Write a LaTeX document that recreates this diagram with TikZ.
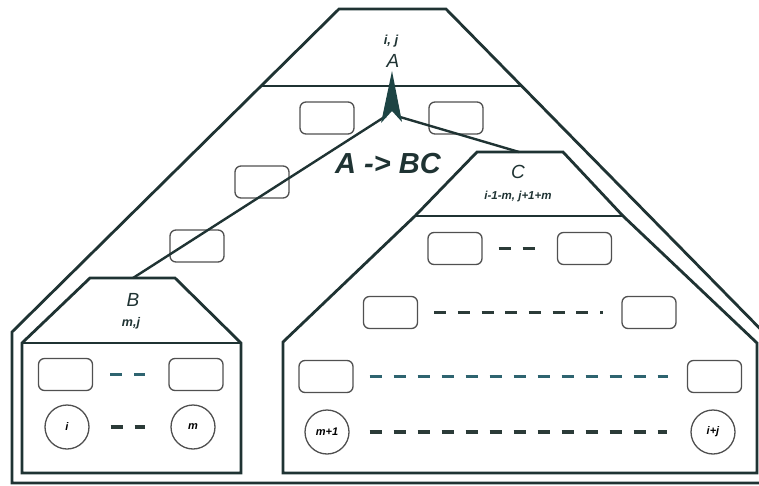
\documentclass[tikz,border=0pt]{standalone}
\usepackage{fontspec}
\setmainfont{Liberation Sans}
\setsansfont{Liberation Sans}
\definecolor{frameC}{HTML}{1F3333}
\definecolor{boxC}{HTML}{505050}
\definecolor{dashC}{HTML}{2B3B38}
\definecolor{tealC}{HTML}{2E6470}
\definecolor{arrC}{HTML}{1D4444}
\tikzset{
  frame/.style={draw=frameC, line width=2.8pt, line join=miter},
  cell/.style={draw=boxC, line width=1.3pt, rounded corners=6pt, minimum width=54pt, minimum height=32pt, inner sep=0pt},
  leaf/.style={draw=boxC, line width=1.3pt, circle, minimum size=44pt, inner sep=0pt, font=\sffamily\itshape\bfseries\fontsize{11}{12}\selectfont},
  dots/.style={draw=dashC, line width=3.2pt, dash pattern=on 12pt off 12pt},
  tdots/.style={dots, draw=tealC},
  lab/.style={font=\sffamily\itshape, text=frameC, inner sep=0pt},
  conn/.style={draw=frameC, line width=2.4pt}
}
\begin{document}
\begin{tikzpicture}[x=1pt,y=-1pt]
\useasboundingbox (0,0) rectangle (759,486);
\clip (0,0) rectangle (759,486);
\fill[white] (0,0) rectangle (759,486);
% outer frame
\draw[frame] (339,9) -- (446,9) -- (780,349) -- (780,483) -- (12,483) -- (12,332) -- cycle;
\draw[frame] (261,86) -- (521.5,86);
% B frame
\draw[frame] (90,278) -- (175,278) -- (241,343) -- (241,473) -- (22,473) -- (22,343) -- cycle;
\draw[frame] (22,343) -- (241,343);
% C frame
\draw[frame] (477,152) -- (563,152) -- (623,216) -- (757,343) -- (757,473) -- (283,473) -- (283,342) -- (415,216) -- cycle;
\draw[frame] (415,216) -- (623,216);
% labels
\node[lab, font=\sffamily\itshape\bfseries\fontsize{13}{15}\selectfont] (lij) at (391,41) {i, j};
\node[lab, font=\sffamily\itshape\fontsize{19}{22}\selectfont] (lA) at (393,61) {A};
\node[lab, font=\sffamily\itshape\bfseries\fontsize{29}{33}\selectfont] (rule) at (388,164) {A -> BC};
\node[lab, font=\sffamily\itshape\fontsize{19}{22}\selectfont] (lB) at (133,300) {B};
\node[lab, font=\sffamily\itshape\bfseries\fontsize{12.5}{14}\selectfont] (lmj) at (131,323) {m,j};
\node[lab, font=\sffamily\itshape\fontsize{19}{22}\selectfont] (lC) at (518,172) {C};
\node[lab, font=\sffamily\itshape\bfseries\fontsize{11.5}{13}\selectfont] (lCs) at (518,197) {i-1-m, j+1+m};
% cells along the A-B path
\node[cell] (t1) at (327,118) {};
\node[cell] (t2) at (456,118) {};
\node[cell] (t3) at (262,182) {};
\node[cell] (t4) at (197,246) {};
% B contents
\node[cell] (b1) at (65.5,374.5) {};
\node[cell] (b2) at (196,374.5) {};
\node[leaf] (bl) at (67,427) {i};
\node[leaf] (bm) at (193,427) {m};
\draw[tdots, shorten <=17pt, shorten >=23pt] (b1.east) -- (b2.west);
\draw[dots, shorten <=21pt, shorten >=25pt] (bl.east) -- (bm.west);
% C contents
\node[cell] (c11) at (455,248.5) {};
\node[cell] (c12) at (584.5,248.5) {};
\node[cell] (c21) at (390.5,312.5) {};
\node[cell] (c22) at (649,312.5) {};
\node[cell] (c31) at (326,376.5) {};
\node[cell] (c32) at (714.5,376.5) {};
\node[leaf] (cl) at (327,432) {m+1};
\node[leaf] (cr) at (713,432) {i+j};
\draw[dots, shorten <=16pt, shorten >=22pt] (c11.east) -- (c12.west);
\draw[dots, dash pattern=on 12pt off 11.7pt, shorten <=16pt, shorten >=18pt] (c21.east) -- (c22.west);
\draw[tdots, shorten <=16pt, shorten >=19pt] (c31.east) -- (c32.west);
\draw[dots, shorten <=20pt, shorten >=23pt] (cl.east) -- (cr.west);
% connectors from A
\coordinate (Aleft) at (386,116);
\coordinate (Aright) at (400,117);
\coordinate (Btop) at (133,278);
\coordinate (Ctop) at (519,152);
\draw[conn] (Aleft) -- (Btop);
\draw[conn] (Aright) -- (Ctop);
% arrow head at A
\coordinate (Atip) at (392,71);
\fill[arrC] (Atip) -- (402,122) -- (392,111) -- (381,123) -- cycle;
\end{tikzpicture}
\end{document}
